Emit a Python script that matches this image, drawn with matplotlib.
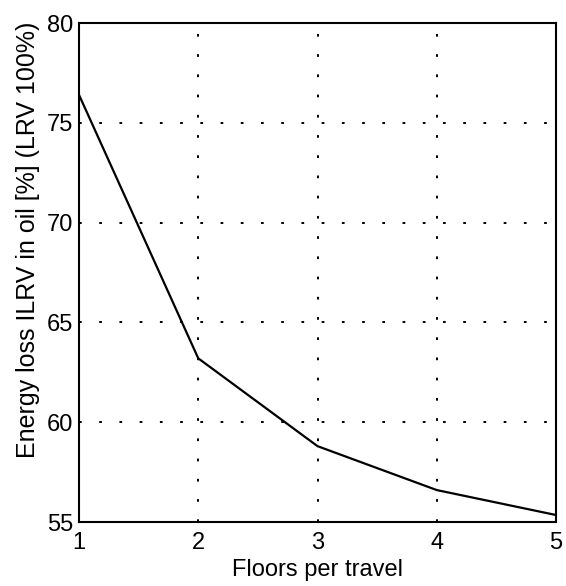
import matplotlib as mpl
mpl.use('Agg')
import matplotlib.pyplot as plt

# floors per travel vs energy loss
floors = [1, 2, 3, 4, 5]
energy_loss = [76.4, 63.2, 58.8, 56.6, 55.35]
yticks = [55, 60, 65, 70, 75, 80]

plt.rcParams['font.family'] = ['Liberation Sans', 'DejaVu Sans']

fig = plt.figure(figsize=(5.66, 5.86), dpi=100)
ax = fig.add_axes([79 / 566, 64 / 586, 477 / 566, 499 / 586])

ax.plot(floors, energy_loss, color='black', lw=1.6)

ax.set_xlim(1, 5)
ax.set_ylim(55, 80)
ax.set_xticks(floors)
ax.set_yticks(yticks)
ax.grid(True, color='black', linestyle=(0, (1.4, 9)), lw=1.4)
ax.tick_params(length=0, labelsize=17)
ax.tick_params(axis='x', pad=7)
ax.tick_params(axis='y', pad=4)
for s in ax.spines.values():
    s.set_linewidth(1.5)

ax.set_xlabel('Floors per travel', fontsize=17, labelpad=4)
ax.set_ylabel('Energy loss ILRV in oil [%] (LRV 100%)', fontsize=18)
ax.yaxis.set_label_coords(-0.082, 0.565)

fig.savefig('out.png', dpi=100)
